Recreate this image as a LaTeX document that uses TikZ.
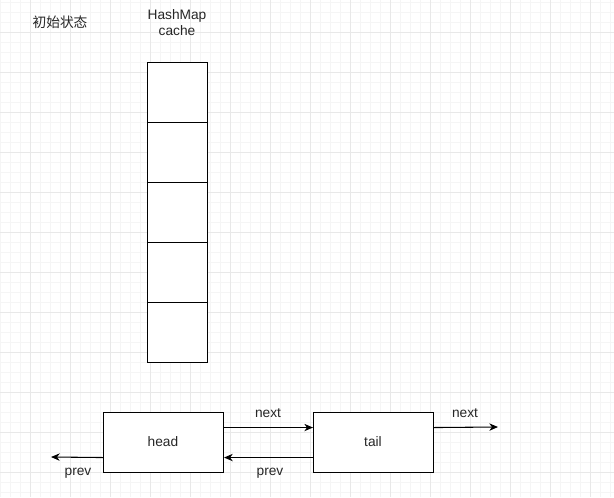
\documentclass[tikz,border=0pt]{standalone}
\usepackage{fontspec}
\setmainfont{Liberation Sans}
\newfontfamily\cjk{Noto Sans CJK SC}
\usetikzlibrary{arrows.meta}
\begin{document}
\begin{tikzpicture}[x=0.75pt,y=-0.75pt,
  every node/.style={font=\fontsize{10.3}{12}\selectfont, inner sep=0pt},
  cell/.style={draw=black, line width=0.8pt, fill=white, minimum width=45pt, minimum height=45pt, anchor=north west},
  listbox/.style={draw=black, line width=0.8pt, fill=white, minimum width=90pt, minimum height=45pt, anchor=north west},
  link/.style={draw=black, line width=0.8pt, -{Stealth[length=6.5pt,width=5.5pt,inset=2pt]}},
  lbl/.style={text=black!85}]
\useasboundingbox (0,0) rectangle (614,497);
\fill[white] (0,0) rectangle (614,497);
% minor grid
\foreach \x in {0.5,10.5,...,610.5} \draw[line width=0.6pt, black!4] (\x,0) -- (\x,497);
\foreach \y in {2,12,...,492} \draw[line width=0.6pt, black!4] (0,\y) -- (614,\y);
% major grid
\foreach \x in {30.5,70.5,...,610.5} \draw[line width=0.75pt, black!9] (\x,0) -- (\x,497);
\foreach \y in {32,72,...,492} \draw[line width=0.75pt, black!9] (0,\y) -- (614,\y);

\node[lbl] (title) at (60,22) {\cjk 初始状态};
\node[lbl, align=center] (hmlabel) at (177,23) {HashMap\\cache};

\node[cell] (c1) at (147,62) {};
\node[cell] (c2) at (147,122) {};
\node[cell] (c3) at (147,182) {};
\node[cell] (c4) at (147,242) {};
\node[cell] (c5) at (147,302) {};

\node[listbox] (head) at (103,412) {};
\node[lbl] (headt) at (163,442) {head};
\node[listbox] (tail) at (313,412) {};
\node[lbl] (tailt) at (373,442) {tail};

\coordinate (pend) at (51,457);
\coordinate (nend) at (498,427);

\draw[link] ([yshift=11.25pt]head.east) -- ([yshift=11.25pt]tail.west);
\draw[link] ([yshift=-11.25pt]tail.west) -- ([yshift=-11.25pt]head.east);
\draw[link] ([yshift=-11.25pt]head.west) -- (pend);
\draw[link] ([yshift=11.25pt]tail.east) -- (nend);

\node[lbl] (n1) at (268,413) {next};
\node[lbl] (p1) at (270,473) {prev};
\node[lbl] (p2) at (78,473) {prev};
\node[lbl] (n2) at (465,413) {next};
\end{tikzpicture}
\end{document}
